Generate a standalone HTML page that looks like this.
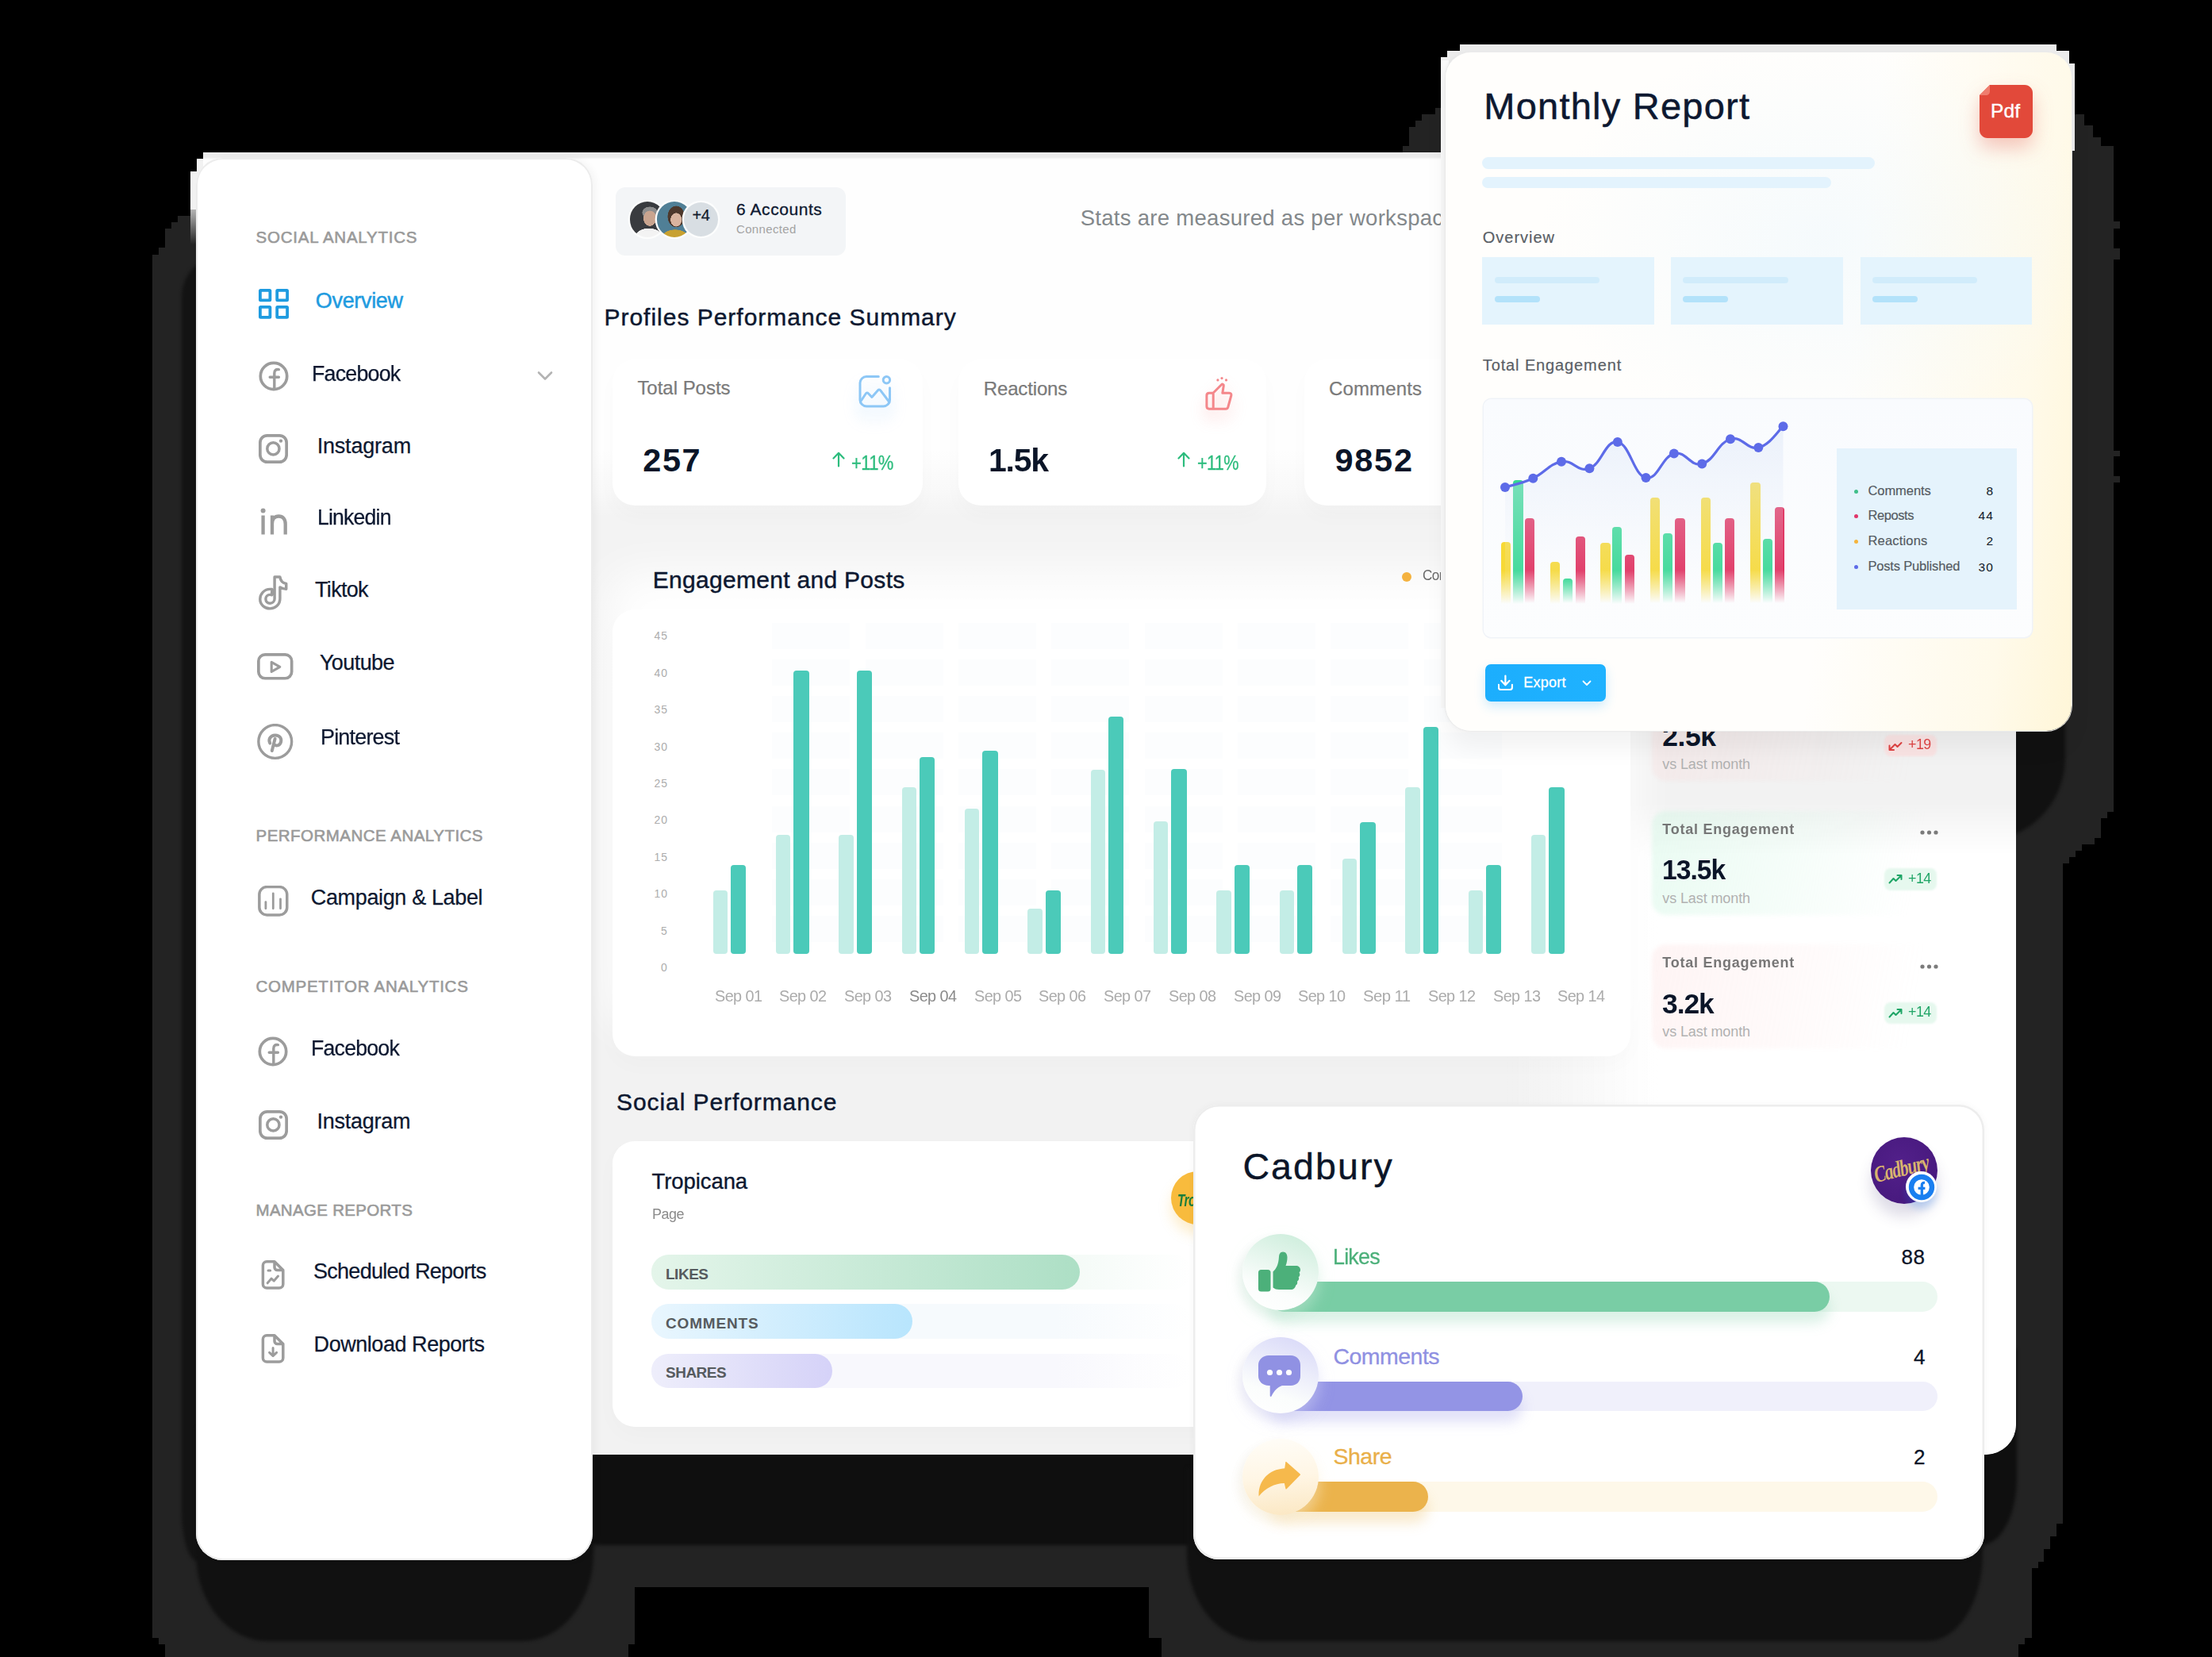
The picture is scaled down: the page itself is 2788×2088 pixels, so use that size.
<!DOCTYPE html>
<html><head><meta charset="utf-8"><title>Social Analytics Dashboard</title>
<style>
html,body{margin:0;padding:0;background:#000;}
body{width:2788px;height:2088px;position:relative;overflow:hidden;font-family:"Liberation Sans",sans-serif;}
.t{position:absolute;white-space:nowrap;line-height:1;font-family:"Liberation Sans",sans-serif;}
</style></head><body>
<svg style="position:absolute;left:0;top:0" width="2788" height="2088" viewBox="0 0 2788 2088"><polygon fill="#232323" points="256,192 1768,192 1768,184 1776,184 1776,160 1784,160 1784,152 1792,152 1792,144 1809,144 1809,136 1816,136 1816,100 2615,100 2615,135 2615,144 2627,144 2627,158 2638,158 2638,173 2648,173 2648,184 2664,184 2664,279 2672,279 2672,288 2664,288 2664,313 2672,313 2672,327 2664,327 2664,568 2672,568 2672,575 2664,575 2664,600 2672,600 2672,608 2664,608 2664,1023 2656,1023 2656,1031 2648,1031 2648,1056 2640,1056 2640,1064 2624,1064 2624,1072 2616,1072 2616,1080 2608,1080 2608,1088 2600,1088 2600,1920 2592,1920 2592,1936 2584,1936 2584,1952 2576,1952 2576,1968 2569,1968 2569,1976 2561,1976 2561,2064 2552,2064 2552,2072 2544,2072 2544,2088 1464,2088 1464,2064 1448,2064 1448,2000 800,2000 800,2072 792,2072 792,2088 208,2088 208,2072 200,2072 200,2064 192,2064 192,321 200,321 200,312 208,312 208,288 216,288 216,280 224,280 224,272 240,272 240,216 248,216 248,200 256,200"/><polygon fill="#f2f2f2" points="256,192 256,200 248,200 248,216 240,216 240,264 262,264 262,192"/><defs><linearGradient id="nz" x1="0" y1="0" x2="0" y2="1"><stop offset="0" stop-color="#b4b4b4"/><stop offset=".2" stop-color="#9a9a9a"/><stop offset="1" stop-color="#232323"/></linearGradient></defs><rect x="240" y="264" width="8" height="44" fill="url(#nz)"/></svg>
<div style="position:absolute;left:229.0px;top:322.0px;width:60.0px;height:1645.0px;background:#111;filter:blur(2.200px);background:#131313;border-radius:52px 0 0 20px / 52px 0 0 62px;"></div>
<div style="position:absolute;left:246.5px;top:1800.0px;width:501.0px;height:268.0px;background:#111;filter:blur(2.200px);border-radius:0 0 90px 90px / 0 0 110px 110px;"></div>
<div style="position:absolute;left:700.0px;top:1700.0px;width:1842.0px;height:247.0px;background:#111;filter:blur(2.200px);background:#0f0f0f;border-radius:0 0 45px 60px / 0 0 85px 60px;"></div>
<div style="position:absolute;left:1496.0px;top:1850.0px;width:1003.0px;height:218.0px;background:#111;filter:blur(2.200px);border-radius:0 0 70px 90px / 0 0 110px 110px;"></div>
<div style="position:absolute;left:1900.0px;top:800.0px;width:703.0px;height:260.0px;background:#111;filter:blur(2.200px);border-radius:0 0 105px 105px;"></div>
<div style="position:absolute;left:256.0px;top:192.0px;width:2285.0px;height:1641.0px;background:linear-gradient(180deg,#ececec 0,#ececec 6px,#fefefe 9px,#fefefe 375px,#f9f9f9 425px,#f3f3f3 458px,#f3f3f3 520px,#f2f2f2 700px,#f2f2f2 100%);border-radius:0 0 38px 0;"></div>
<div style="position:absolute;left:1900.0px;top:1010.0px;width:641.0px;height:823.0px;background:linear-gradient(90deg,rgba(255,255,255,0) 0,#fff 190px);border-radius:0 0 38px 0;-webkit-mask-image:linear-gradient(180deg,transparent 0,#000 70px);mask-image:linear-gradient(180deg,transparent 0,#000 70px)"></div>
<div style="position:absolute;left:776.0px;top:236.0px;width:290.0px;height:86.0px;background:#f3f5f7;border-radius:12px;"></div>
<div style="position:absolute;left:793.7px;top:254.2px;width:44.5px;height:44.5px;border-radius:50%;box-shadow:0 0 0 2.300px #fcfdfd;background:radial-gradient(ellipse 8.200px 9.800px at 57% 47%,#c9a48f 96%,rgba(0,0,0,0) 100%),radial-gradient(ellipse 9.800px 7.600px at 57% 31%,#8e8e8e 96%,rgba(0,0,0,0) 100%),radial-gradient(ellipse 17.500px 11.500px at 54% 100%,#f3f3f3 96%,rgba(0,0,0,0) 100%),#393b3f;"></div>
<div style="position:absolute;left:827.6px;top:254.2px;width:44.5px;height:44.5px;border-radius:50%;box-shadow:0 0 0 2.300px #fcfdfd;background:radial-gradient(ellipse 7.100px 8.700px at 55% 51%,#d9b49f 96%,rgba(0,0,0,0) 100%),radial-gradient(ellipse 10.900px 13.600px at 55% 42%,#4d382c 96%,rgba(0,0,0,0) 100%),radial-gradient(ellipse 16.400px 9.800px at 52% 100%,#c8a131 96%,rgba(0,0,0,0) 100%),#507f96;"></div>
<div style="position:absolute;left:862.2px;top:255.1px;width:42.8px;height:42.8px;border-radius:50%;box-shadow:0 0 0 2.300px #fcfdfd;background:#d8dee3;"></div>
<span class="t" style="left:872.4px;top:261.4px;font-size:20.0px;color:#111a2b;letter-spacing:-0.41px;-webkit-text-stroke:0.20px #111a2b;">+4</span>
<span class="t" style="left:928.0px;top:253.2px;font-size:21.0px;color:#0d1830;letter-spacing:0.57px;-webkit-text-stroke:0.30px #0d1830;">6 Accounts</span>
<span class="t" style="left:928.0px;top:281.3px;font-size:15.0px;color:#a3a3a3;letter-spacing:0.34px;">Connected</span>
<span class="t" style="left:1361.7px;top:260.9px;font-size:27.5px;color:#83888b;letter-spacing:0.29px;">Stats are measured as per workspace</span>
<span class="t" style="left:761.5px;top:384.9px;font-size:30.0px;color:#0d1830;letter-spacing:0.98px;-webkit-text-stroke:0.45px #0d1830;">Profiles Performance Summary</span>
<div style="position:absolute;left:772.0px;top:453.0px;width:391.0px;height:184.0px;background:#fff;border-radius:28px;box-shadow:0 14px 26px rgba(0,0,0,.02);"></div>
<div style="position:absolute;left:1208.0px;top:453.0px;width:388.0px;height:184.0px;background:#fff;border-radius:28px;box-shadow:0 14px 26px rgba(0,0,0,.02);"></div>
<div style="position:absolute;left:1644.0px;top:453.0px;width:390.0px;height:184.0px;background:#fff;border-radius:28px;box-shadow:0 14px 26px rgba(0,0,0,.02);"></div>
<span class="t" style="left:803.4px;top:477.2px;font-size:24.0px;color:#7a7a7a;letter-spacing:-0.02px;-webkit-text-stroke:0.25px #7a7a7a;">Total Posts</span>
<span class="t" style="left:1239.8px;top:477.5px;font-size:24.0px;color:#7a7a7a;letter-spacing:-0.15px;-webkit-text-stroke:0.25px #7a7a7a;">Reactions</span>
<span class="t" style="left:1674.9px;top:477.5px;font-size:24.0px;color:#7a7a7a;letter-spacing:0.17px;-webkit-text-stroke:0.25px #7a7a7a;">Comments</span>
<span class="t" style="left:810.3px;top:559.2px;font-size:41.5px;color:#0b1528;font-weight:bold;letter-spacing:1.52px;">257</span>
<span class="t" style="left:1245.5px;top:559.3px;font-size:41.5px;color:#0b1528;font-weight:bold;letter-spacing:-1.24px;transform:scaleX(0.9864);transform-origin:0 0;">1.5k</span>
<span class="t" style="left:1682.5px;top:559.3px;font-size:41.5px;color:#0b1528;font-weight:bold;letter-spacing:1.72px;">9852</span>
<span class="t" style="left:1072.7px;top:569.9px;font-size:26.0px;color:#2cbc7d;letter-spacing:-0.78px;-webkit-text-stroke:0.30px #2cbc7d;transform:scaleX(0.8466);transform-origin:0 0;">+11%</span>
<span class="t" style="left:1509.0px;top:569.9px;font-size:26.0px;color:#2cbc7d;letter-spacing:-0.78px;-webkit-text-stroke:0.30px #2cbc7d;transform:scaleX(0.8323);transform-origin:0 0;">+11%</span>
<svg style="position:absolute;left:1049px;top:569px" width="16" height="20" viewBox="0 0 16 20" fill="none" stroke="#2cbc7d" stroke-width="2.200" stroke-linecap="round" stroke-linejoin="round"><path d="M8 18.500 V2 M1.500 8.500 L8 1.800 L14.500 8.500"/></svg>
<svg style="position:absolute;left:1484px;top:569px" width="16" height="20" viewBox="0 0 16 20" fill="none" stroke="#2cbc7d" stroke-width="2.200" stroke-linecap="round" stroke-linejoin="round"><path d="M8 18.500 V2 M1.500 8.500 L8 1.800 L14.500 8.500"/></svg>
<svg style="position:absolute;left:1081px;top:472px;filter:drop-shadow(0 14px 9px rgba(130,190,248,.33))" width="44" height="43" viewBox="0 0 44 43" fill="none" stroke="#8dc7f6" stroke-width="3" stroke-linecap="round" stroke-linejoin="round"><path d="M26.300 2.600 H11 c-4.400 0-8 3.600-8 8 V31.900 c0 4.400 3.600 8 8 8 H32.500 c4.400 0 8-3.600 8-8 V16.700"/><circle cx="36.400" cy="6.800" r="4.200"/><path d="M4.300 33 L10.300 24 c.8-1.200 2.100-1.300 3.100-.3 L17.900 28.500 L25.600 19.700 c.9-1 2.300-1 3.100.1 L39.800 34.500"/></svg>
<svg style="position:absolute;left:1518px;top:474px;filter:drop-shadow(0 11px 9px rgba(245,130,130,.38))" width="38" height="44" viewBox="0 0 38 44" fill="none" stroke="#f4878b" stroke-width="3" stroke-linecap="round" stroke-linejoin="round"><path d="M11 21.300 H6 c-1.900 0-3.100 1.200-3.100 3.100 V38.100 c0 1.900 1.200 3.100 3.100 3.100 H27 c1.500 0 2.300-.8 2.800-2.200 L33.800 24.500 c.5-1.800-.5-3.200-2.400-3.200 H22.800 L24.300 12 c.3-1.700-1.600-2.500-2.800-1.200 Z M11.200 21.300 V41.200"/><circle cx="16.900" cy="4.900" r="1.600" fill="#f4878b" stroke="none"/><circle cx="22" cy="2.600" r="1.600" fill="#f4878b" stroke="none"/><circle cx="27.500" cy="4.900" r="1.600" fill="#f4878b" stroke="none"/></svg>
<div style="position:absolute;left:772.0px;top:768.0px;width:1283.0px;height:562.5px;background:#fff;border-radius:28px;box-shadow:0 -42px 55px 6px rgba(255,255,255,.95),0 10px 30px rgba(0,0,0,.02);"></div>
<span class="t" style="left:822.7px;top:715.5px;font-size:30.0px;color:#0d1830;letter-spacing:0.30px;-webkit-text-stroke:0.45px #0d1830;">Engagement and Posts</span>
<div style="position:absolute;left:1767.0px;top:720.7px;width:12.0px;height:12.0px;border-radius:50%;background:#f4b23f;"></div>
<span class="t" style="left:1792.7px;top:714.6px;font-size:19.0px;color:#6a6a6a;letter-spacing:-0.57px;transform:scaleX(0.8991);transform-origin:0 0;">Comments</span>
<div style="position:absolute;left:973.4px;top:784.5px;width:98.0px;height:33.0px;background:#fcfdfe;"></div><div style="position:absolute;left:973.4px;top:830.7px;width:98.0px;height:33.0px;background:#fcfdfe;"></div><div style="position:absolute;left:973.4px;top:876.9px;width:98.0px;height:33.0px;background:#fcfdfe;"></div><div style="position:absolute;left:973.4px;top:923.1px;width:98.0px;height:33.0px;background:#fcfdfe;"></div><div style="position:absolute;left:973.4px;top:969.3px;width:98.0px;height:33.0px;background:#fcfdfe;"></div><div style="position:absolute;left:973.4px;top:1015.5px;width:98.0px;height:33.0px;background:#fcfdfe;"></div><div style="position:absolute;left:973.4px;top:1061.7px;width:98.0px;height:33.0px;background:#fcfdfe;"></div><div style="position:absolute;left:973.4px;top:1107.9px;width:98.0px;height:33.0px;background:#fcfdfe;"></div><div style="position:absolute;left:973.4px;top:1154.1px;width:98.0px;height:33.0px;background:#fcfdfe;"></div><div style="position:absolute;left:1090.7px;top:784.5px;width:98.0px;height:33.0px;background:#fcfdfe;"></div><div style="position:absolute;left:1090.7px;top:830.7px;width:98.0px;height:33.0px;background:#fcfdfe;"></div><div style="position:absolute;left:1090.7px;top:876.9px;width:98.0px;height:33.0px;background:#fcfdfe;"></div><div style="position:absolute;left:1090.7px;top:923.1px;width:98.0px;height:33.0px;background:#fcfdfe;"></div><div style="position:absolute;left:1090.7px;top:969.3px;width:98.0px;height:33.0px;background:#fcfdfe;"></div><div style="position:absolute;left:1090.7px;top:1015.5px;width:98.0px;height:33.0px;background:#fcfdfe;"></div><div style="position:absolute;left:1090.7px;top:1061.7px;width:98.0px;height:33.0px;background:#fcfdfe;"></div><div style="position:absolute;left:1090.7px;top:1107.9px;width:98.0px;height:33.0px;background:#fcfdfe;"></div><div style="position:absolute;left:1090.7px;top:1154.1px;width:98.0px;height:33.0px;background:#fcfdfe;"></div><div style="position:absolute;left:1208.0px;top:784.5px;width:98.0px;height:33.0px;background:#fcfdfe;"></div><div style="position:absolute;left:1208.0px;top:830.7px;width:98.0px;height:33.0px;background:#fcfdfe;"></div><div style="position:absolute;left:1208.0px;top:876.9px;width:98.0px;height:33.0px;background:#fcfdfe;"></div><div style="position:absolute;left:1208.0px;top:923.1px;width:98.0px;height:33.0px;background:#fcfdfe;"></div><div style="position:absolute;left:1208.0px;top:969.3px;width:98.0px;height:33.0px;background:#fcfdfe;"></div><div style="position:absolute;left:1208.0px;top:1015.5px;width:98.0px;height:33.0px;background:#fcfdfe;"></div><div style="position:absolute;left:1208.0px;top:1061.7px;width:98.0px;height:33.0px;background:#fcfdfe;"></div><div style="position:absolute;left:1208.0px;top:1107.9px;width:98.0px;height:33.0px;background:#fcfdfe;"></div><div style="position:absolute;left:1208.0px;top:1154.1px;width:98.0px;height:33.0px;background:#fcfdfe;"></div><div style="position:absolute;left:1325.3px;top:784.5px;width:98.0px;height:33.0px;background:#fcfdfe;"></div><div style="position:absolute;left:1325.3px;top:830.7px;width:98.0px;height:33.0px;background:#fcfdfe;"></div><div style="position:absolute;left:1325.3px;top:876.9px;width:98.0px;height:33.0px;background:#fcfdfe;"></div><div style="position:absolute;left:1325.3px;top:923.1px;width:98.0px;height:33.0px;background:#fcfdfe;"></div><div style="position:absolute;left:1325.3px;top:969.3px;width:98.0px;height:33.0px;background:#fcfdfe;"></div><div style="position:absolute;left:1325.3px;top:1015.5px;width:98.0px;height:33.0px;background:#fcfdfe;"></div><div style="position:absolute;left:1325.3px;top:1061.7px;width:98.0px;height:33.0px;background:#fcfdfe;"></div><div style="position:absolute;left:1325.3px;top:1107.9px;width:98.0px;height:33.0px;background:#fcfdfe;"></div><div style="position:absolute;left:1325.3px;top:1154.1px;width:98.0px;height:33.0px;background:#fcfdfe;"></div><div style="position:absolute;left:1442.6px;top:784.5px;width:98.0px;height:33.0px;background:#fcfdfe;"></div><div style="position:absolute;left:1442.6px;top:830.7px;width:98.0px;height:33.0px;background:#fcfdfe;"></div><div style="position:absolute;left:1442.6px;top:876.9px;width:98.0px;height:33.0px;background:#fcfdfe;"></div><div style="position:absolute;left:1442.6px;top:923.1px;width:98.0px;height:33.0px;background:#fcfdfe;"></div><div style="position:absolute;left:1442.6px;top:969.3px;width:98.0px;height:33.0px;background:#fcfdfe;"></div><div style="position:absolute;left:1442.6px;top:1015.5px;width:98.0px;height:33.0px;background:#fcfdfe;"></div><div style="position:absolute;left:1442.6px;top:1061.7px;width:98.0px;height:33.0px;background:#fcfdfe;"></div><div style="position:absolute;left:1442.6px;top:1107.9px;width:98.0px;height:33.0px;background:#fcfdfe;"></div><div style="position:absolute;left:1442.6px;top:1154.1px;width:98.0px;height:33.0px;background:#fcfdfe;"></div><div style="position:absolute;left:1559.9px;top:784.5px;width:98.0px;height:33.0px;background:#fcfdfe;"></div><div style="position:absolute;left:1559.9px;top:830.7px;width:98.0px;height:33.0px;background:#fcfdfe;"></div><div style="position:absolute;left:1559.9px;top:876.9px;width:98.0px;height:33.0px;background:#fcfdfe;"></div><div style="position:absolute;left:1559.9px;top:923.1px;width:98.0px;height:33.0px;background:#fcfdfe;"></div><div style="position:absolute;left:1559.9px;top:969.3px;width:98.0px;height:33.0px;background:#fcfdfe;"></div><div style="position:absolute;left:1559.9px;top:1015.5px;width:98.0px;height:33.0px;background:#fcfdfe;"></div><div style="position:absolute;left:1559.9px;top:1061.7px;width:98.0px;height:33.0px;background:#fcfdfe;"></div><div style="position:absolute;left:1559.9px;top:1107.9px;width:98.0px;height:33.0px;background:#fcfdfe;"></div><div style="position:absolute;left:1559.9px;top:1154.1px;width:98.0px;height:33.0px;background:#fcfdfe;"></div><div style="position:absolute;left:1677.2px;top:784.5px;width:98.0px;height:33.0px;background:#fcfdfe;"></div><div style="position:absolute;left:1677.2px;top:830.7px;width:98.0px;height:33.0px;background:#fcfdfe;"></div><div style="position:absolute;left:1677.2px;top:876.9px;width:98.0px;height:33.0px;background:#fcfdfe;"></div><div style="position:absolute;left:1677.2px;top:923.1px;width:98.0px;height:33.0px;background:#fcfdfe;"></div><div style="position:absolute;left:1677.2px;top:969.3px;width:98.0px;height:33.0px;background:#fcfdfe;"></div><div style="position:absolute;left:1677.2px;top:1015.5px;width:98.0px;height:33.0px;background:#fcfdfe;"></div><div style="position:absolute;left:1677.2px;top:1061.7px;width:98.0px;height:33.0px;background:#fcfdfe;"></div><div style="position:absolute;left:1677.2px;top:1107.9px;width:98.0px;height:33.0px;background:#fcfdfe;"></div><div style="position:absolute;left:1677.2px;top:1154.1px;width:98.0px;height:33.0px;background:#fcfdfe;"></div><div style="position:absolute;left:1794.5px;top:784.5px;width:98.0px;height:33.0px;background:#fcfdfe;"></div><div style="position:absolute;left:1794.5px;top:830.7px;width:98.0px;height:33.0px;background:#fcfdfe;"></div><div style="position:absolute;left:1794.5px;top:876.9px;width:98.0px;height:33.0px;background:#fcfdfe;"></div><div style="position:absolute;left:1794.5px;top:923.1px;width:98.0px;height:33.0px;background:#fcfdfe;"></div><div style="position:absolute;left:1794.5px;top:969.3px;width:98.0px;height:33.0px;background:#fcfdfe;"></div><div style="position:absolute;left:1794.5px;top:1015.5px;width:98.0px;height:33.0px;background:#fcfdfe;"></div><div style="position:absolute;left:1794.5px;top:1061.7px;width:98.0px;height:33.0px;background:#fcfdfe;"></div><div style="position:absolute;left:1794.5px;top:1107.9px;width:98.0px;height:33.0px;background:#fcfdfe;"></div><div style="position:absolute;left:1794.5px;top:1154.1px;width:98.0px;height:33.0px;background:#fcfdfe;"></div>
<span class="t" style="left:824.5px;top:794.2px;font-size:14.0px;color:#adadad;letter-spacing:0.92px;">45</span>
<span class="t" style="left:824.5px;top:840.7px;font-size:14.0px;color:#adadad;letter-spacing:0.92px;">40</span>
<span class="t" style="left:824.5px;top:887.1px;font-size:14.0px;color:#adadad;letter-spacing:0.92px;">35</span>
<span class="t" style="left:824.5px;top:933.5px;font-size:14.0px;color:#adadad;letter-spacing:0.92px;">30</span>
<span class="t" style="left:824.5px;top:980.0px;font-size:14.0px;color:#adadad;letter-spacing:0.92px;">25</span>
<span class="t" style="left:824.5px;top:1026.4px;font-size:14.0px;color:#adadad;letter-spacing:0.92px;">20</span>
<span class="t" style="left:824.5px;top:1072.8px;font-size:14.0px;color:#adadad;letter-spacing:0.92px;">15</span>
<span class="t" style="left:824.5px;top:1119.3px;font-size:14.0px;color:#adadad;letter-spacing:0.92px;">10</span>
<span class="t" style="left:833.0px;top:1165.7px;font-size:14.0px;color:#adadad;letter-spacing:0.20px;">5</span>
<span class="t" style="left:833.0px;top:1212.1px;font-size:14.0px;color:#adadad;letter-spacing:0.20px;">0</span>
<div style="position:absolute;left:898.5px;top:1121.9px;width:18.5px;height:80.1px;background:#c3ede6;border-radius:4px;"></div><div style="position:absolute;left:921.1px;top:1090.2px;width:19.2px;height:111.8px;background:#4bcab9;border-radius:4px;"></div><div style="position:absolute;left:977.8px;top:1051.9px;width:18.5px;height:150.1px;background:#c3ede6;border-radius:4px;"></div><div style="position:absolute;left:1000.4px;top:844.6px;width:19.2px;height:357.4px;background:#4bcab9;border-radius:4px;"></div><div style="position:absolute;left:1057.2px;top:1051.9px;width:18.5px;height:150.1px;background:#c3ede6;border-radius:4px;"></div><div style="position:absolute;left:1079.8px;top:844.6px;width:19.2px;height:357.4px;background:#4bcab9;border-radius:4px;"></div><div style="position:absolute;left:1136.5px;top:991.6px;width:18.5px;height:210.4px;background:#c3ede6;border-radius:4px;"></div><div style="position:absolute;left:1159.1px;top:953.6px;width:19.2px;height:248.4px;background:#4bcab9;border-radius:4px;"></div><div style="position:absolute;left:1215.8px;top:1018.6px;width:18.5px;height:183.4px;background:#c3ede6;border-radius:4px;"></div><div style="position:absolute;left:1238.4px;top:946.0px;width:19.2px;height:256.0px;background:#4bcab9;border-radius:4px;"></div><div style="position:absolute;left:1295.2px;top:1144.7px;width:18.5px;height:57.3px;background:#c3ede6;border-radius:4px;"></div><div style="position:absolute;left:1317.8px;top:1121.9px;width:19.2px;height:80.1px;background:#4bcab9;border-radius:4px;"></div><div style="position:absolute;left:1374.5px;top:969.5px;width:18.5px;height:232.5px;background:#c3ede6;border-radius:4px;"></div><div style="position:absolute;left:1397.1px;top:903.0px;width:19.2px;height:299.0px;background:#4bcab9;border-radius:4px;"></div><div style="position:absolute;left:1453.8px;top:1035.2px;width:18.5px;height:166.8px;background:#c3ede6;border-radius:4px;"></div><div style="position:absolute;left:1476.4px;top:969.3px;width:19.2px;height:232.7px;background:#4bcab9;border-radius:4px;"></div><div style="position:absolute;left:1533.1px;top:1122.4px;width:18.5px;height:79.6px;background:#c3ede6;border-radius:4px;"></div><div style="position:absolute;left:1555.7px;top:1090.4px;width:19.2px;height:111.6px;background:#4bcab9;border-radius:4px;"></div><div style="position:absolute;left:1612.5px;top:1122.4px;width:18.5px;height:79.6px;background:#c3ede6;border-radius:4px;"></div><div style="position:absolute;left:1635.1px;top:1090.4px;width:19.2px;height:111.6px;background:#4bcab9;border-radius:4px;"></div><div style="position:absolute;left:1691.8px;top:1082.4px;width:18.5px;height:119.6px;background:#c3ede6;border-radius:4px;"></div><div style="position:absolute;left:1714.4px;top:1036.2px;width:19.2px;height:165.8px;background:#4bcab9;border-radius:4px;"></div><div style="position:absolute;left:1771.1px;top:991.8px;width:18.5px;height:210.2px;background:#c3ede6;border-radius:4px;"></div><div style="position:absolute;left:1793.7px;top:916.0px;width:19.2px;height:286.0px;background:#4bcab9;border-radius:4px;"></div><div style="position:absolute;left:1850.5px;top:1122.4px;width:18.5px;height:79.6px;background:#c3ede6;border-radius:4px;"></div><div style="position:absolute;left:1873.1px;top:1090.4px;width:19.2px;height:111.6px;background:#4bcab9;border-radius:4px;"></div><div style="position:absolute;left:1929.8px;top:1052.3px;width:18.5px;height:149.7px;background:#c3ede6;border-radius:4px;"></div><div style="position:absolute;left:1952.4px;top:992.4px;width:19.2px;height:209.6px;background:#4bcab9;border-radius:4px;"></div>
<span class="t" style="left:900.6px;top:1245.2px;font-size:20.5px;color:#ababab;letter-spacing:-0.61px;transform:scaleX(0.9692);transform-origin:0 0;">Sep 01</span>
<span class="t" style="left:982.4px;top:1245.2px;font-size:20.5px;color:#ababab;letter-spacing:-0.61px;transform:scaleX(0.9692);transform-origin:0 0;">Sep 02</span>
<span class="t" style="left:1064.1px;top:1245.2px;font-size:20.5px;color:#ababab;letter-spacing:-0.61px;transform:scaleX(0.9692);transform-origin:0 0;">Sep 03</span>
<span class="t" style="left:1145.8px;top:1245.2px;font-size:20.5px;color:#8a8a8a;letter-spacing:-0.61px;transform:scaleX(0.9692);transform-origin:0 0;">Sep 04</span>
<span class="t" style="left:1227.6px;top:1245.2px;font-size:20.5px;color:#ababab;letter-spacing:-0.61px;transform:scaleX(0.9692);transform-origin:0 0;">Sep 05</span>
<span class="t" style="left:1309.3px;top:1245.2px;font-size:20.5px;color:#ababab;letter-spacing:-0.61px;transform:scaleX(0.9692);transform-origin:0 0;">Sep 06</span>
<span class="t" style="left:1391.1px;top:1245.2px;font-size:20.5px;color:#ababab;letter-spacing:-0.61px;transform:scaleX(0.9692);transform-origin:0 0;">Sep 07</span>
<span class="t" style="left:1472.8px;top:1245.2px;font-size:20.5px;color:#ababab;letter-spacing:-0.61px;transform:scaleX(0.9692);transform-origin:0 0;">Sep 08</span>
<span class="t" style="left:1554.6px;top:1245.2px;font-size:20.5px;color:#ababab;letter-spacing:-0.61px;transform:scaleX(0.9692);transform-origin:0 0;">Sep 09</span>
<span class="t" style="left:1636.3px;top:1245.2px;font-size:20.5px;color:#ababab;letter-spacing:-0.61px;transform:scaleX(0.9692);transform-origin:0 0;">Sep 10</span>
<span class="t" style="left:1718.1px;top:1245.2px;font-size:20.5px;color:#ababab;letter-spacing:-0.61px;transform:scaleX(0.9937);transform-origin:0 0;">Sep 11</span>
<span class="t" style="left:1799.8px;top:1245.2px;font-size:20.5px;color:#ababab;letter-spacing:-0.61px;transform:scaleX(0.9692);transform-origin:0 0;">Sep 12</span>
<span class="t" style="left:1881.6px;top:1245.2px;font-size:20.5px;color:#ababab;letter-spacing:-0.61px;transform:scaleX(0.9692);transform-origin:0 0;">Sep 13</span>
<span class="t" style="left:1963.3px;top:1245.2px;font-size:20.5px;color:#ababab;letter-spacing:-0.61px;transform:scaleX(0.9692);transform-origin:0 0;">Sep 14</span>
<div style="position:absolute;left:2082.0px;top:853.2px;width:370.0px;height:131.0px;border-radius:18px;filter:blur(2.500px);background:linear-gradient(100deg,rgba(250,200,200,.2) 0,rgba(255,255,255,0) 88%);"></div><span class="t" style="left:2095.3px;top:867.3px;font-size:18.0px;color:#6c6c6c;font-weight:bold;letter-spacing:0.75px;opacity:.92;">Total Engagement</span><svg style="position:absolute;left:2420px;top:877.5px" width="23" height="6" viewBox="0 0 23 6" fill="#7b7b7b"><circle cx="3" cy="3" r="2.600"/><circle cx="11.500" cy="3" r="2.600"/><circle cx="20" cy="3" r="2.600"/></svg><span class="t" style="left:2095.3px;top:910.7px;font-size:35.5px;color:#0b1528;font-weight:bold;letter-spacing:-0.46px;">2.5k</span><span class="t" style="left:2095.3px;top:954.0px;font-size:18.0px;color:#b1b1b1;letter-spacing:-0.11px;">vs Last month</span><div style="position:absolute;left:2374.6px;top:925.5px;width:66.0px;height:27.5px;background:#fae4e4;border-radius:8px;filter:blur(1px);"></div><svg style="position:absolute;left:2379.500px;top:932.7px" width="18" height="14" viewBox="0 0 18 14" fill="none" stroke="#e04343" stroke-width="2" stroke-linecap="round" stroke-linejoin="round"><path d="M16.500 3 L11.500 8 L8.500 5 L2 11.500 M1.500 6.500 V12 H7"/></svg><span class="t" style="left:2405.0px;top:929.0px;font-size:18.5px;color:#e04343;letter-spacing:-0.55px;transform:scaleX(0.9643);transform-origin:0 0;">+19</span>
<div style="position:absolute;left:2082.0px;top:1021.7px;width:370.0px;height:131.0px;border-radius:18px;filter:blur(2.500px);background:linear-gradient(100deg,rgba(200,245,222,.38) 0,rgba(255,255,255,0) 88%);"></div><span class="t" style="left:2095.3px;top:1035.8px;font-size:18.0px;color:#6c6c6c;font-weight:bold;letter-spacing:0.75px;opacity:.92;">Total Engagement</span><svg style="position:absolute;left:2420px;top:1046.0px" width="23" height="6" viewBox="0 0 23 6" fill="#7b7b7b"><circle cx="3" cy="3" r="2.600"/><circle cx="11.500" cy="3" r="2.600"/><circle cx="20" cy="3" r="2.600"/></svg><span class="t" style="left:2095.3px;top:1079.2px;font-size:35.5px;color:#0b1528;font-weight:bold;letter-spacing:-1.06px;transform:scaleX(0.9494);transform-origin:0 0;">13.5k</span><span class="t" style="left:2095.3px;top:1122.5px;font-size:18.0px;color:#b1b1b1;letter-spacing:-0.11px;">vs Last month</span><div style="position:absolute;left:2374.6px;top:1094.0px;width:66.0px;height:27.5px;background:#e6f8ee;border-radius:8px;filter:blur(1px);"></div><svg style="position:absolute;left:2379.500px;top:1101.2px" width="18" height="14" viewBox="0 0 18 14" fill="none" stroke="#1fa566" stroke-width="2" stroke-linecap="round" stroke-linejoin="round"><path d="M1.500 11.500 L6.500 6 L9.500 9 L16 2.500 M11.500 2 H16.500 V7"/></svg><span class="t" style="left:2405.0px;top:1097.5px;font-size:18.5px;color:#1fa566;letter-spacing:-0.55px;transform:scaleX(0.9643);transform-origin:0 0;">+14</span>
<div style="position:absolute;left:2082.0px;top:1190.2px;width:370.0px;height:131.0px;border-radius:18px;filter:blur(2.500px);background:linear-gradient(100deg,rgba(252,210,210,.24) 0,rgba(255,255,255,0) 88%);"></div><span class="t" style="left:2095.3px;top:1204.2px;font-size:18.0px;color:#6c6c6c;font-weight:bold;letter-spacing:0.75px;opacity:.92;">Total Engagement</span><svg style="position:absolute;left:2420px;top:1214.5px" width="23" height="6" viewBox="0 0 23 6" fill="#7b7b7b"><circle cx="3" cy="3" r="2.600"/><circle cx="11.500" cy="3" r="2.600"/><circle cx="20" cy="3" r="2.600"/></svg><span class="t" style="left:2095.3px;top:1247.7px;font-size:35.5px;color:#0b1528;font-weight:bold;letter-spacing:-1.06px;transform:scaleX(0.9970);transform-origin:0 0;">3.2k</span><span class="t" style="left:2095.3px;top:1291.0px;font-size:18.0px;color:#b1b1b1;letter-spacing:-0.11px;">vs Last month</span><div style="position:absolute;left:2374.6px;top:1262.5px;width:66.0px;height:27.5px;background:#e6f8ee;border-radius:8px;filter:blur(1px);"></div><svg style="position:absolute;left:2379.500px;top:1269.7px" width="18" height="14" viewBox="0 0 18 14" fill="none" stroke="#1fa566" stroke-width="2" stroke-linecap="round" stroke-linejoin="round"><path d="M1.500 11.500 L6.500 6 L9.500 9 L16 2.500 M11.500 2 H16.500 V7"/></svg><span class="t" style="left:2405.0px;top:1266.0px;font-size:18.5px;color:#1fa566;letter-spacing:-0.55px;transform:scaleX(0.9643);transform-origin:0 0;">+14</span>
<span class="t" style="left:777.0px;top:1373.5px;font-size:30.0px;color:#0d1830;letter-spacing:0.92px;-webkit-text-stroke:0.45px #0d1830;">Social Performance</span>
<div style="position:absolute;left:772.0px;top:1438.0px;width:800.0px;height:360.0px;background:#fff;border-radius:28px;box-shadow:0 10px 30px rgba(0,0,0,.02);"></div>
<span class="t" style="left:821.6px;top:1475.2px;font-size:27.5px;color:#0d1830;letter-spacing:-0.09px;-webkit-text-stroke:0.35px #0d1830;">Tropicana</span>
<span class="t" style="left:821.6px;top:1520.5px;font-size:18.0px;color:#8b8b8b;letter-spacing:-0.54px;transform:scaleX(0.9993);transform-origin:0 0;">Page</span>
<div style="position:absolute;left:1476.0px;top:1475.5px;width:67.0px;height:67.0px;border-radius:50%;background:#f8bb3d;box-shadow:0 12px 16px rgba(248,187,61,.25);"></div>
<span class="t" style="left:1483.5px;top:1502.0px;font-size:21.0px;color:#1b7d3b;font-weight:bold;letter-spacing:-0.80px;font-style:italic;transform:scale(0.74,1.08);transform-origin:0 85%;">Trop</span>
<div style="position:absolute;left:820.5px;top:1581.0px;width:680.0px;height:44.0px;border-radius:22px;background:linear-gradient(90deg,#f3faf6 0,#f3faf6 75%,#fff 100%);"></div>
<div style="position:absolute;left:820.5px;top:1581.0px;width:540.0px;height:44.0px;border-radius:22px;background:linear-gradient(90deg,#e4f5ea 0,#addfc5 100%);"></div>
<div style="position:absolute;left:820.5px;top:1643.2px;width:680.0px;height:44.0px;border-radius:22px;background:linear-gradient(90deg,#f6fafd 0,#f6fafd 75%,#fff 100%);"></div>
<div style="position:absolute;left:820.5px;top:1643.2px;width:329.0px;height:44.0px;border-radius:22px;background:linear-gradient(90deg,#e9f6fe 0,#b8e5fd 100%);"></div>
<div style="position:absolute;left:820.5px;top:1705.8px;width:680.0px;height:43.5px;border-radius:22px;background:linear-gradient(90deg,#f8f8fd 0,#f8f8fd 75%,#fff 100%);"></div>
<div style="position:absolute;left:820.5px;top:1705.8px;width:228.5px;height:43.5px;border-radius:22px;background:linear-gradient(90deg,#eeeefb 0,#d5d2f8 100%);"></div>
<span class="t" style="left:839.0px;top:1595.7px;font-size:19.0px;color:#565b5e;font-weight:bold;letter-spacing:-0.49px;">LIKES</span>
<span class="t" style="left:839.0px;top:1657.7px;font-size:19.0px;color:#565b5e;font-weight:bold;letter-spacing:0.82px;">COMMENTS</span>
<span class="t" style="left:839.0px;top:1720.0px;font-size:19.0px;color:#565b5e;font-weight:bold;letter-spacing:-0.50px;">SHARES</span>
<div style="position:absolute;left:247px;top:199px;width:500px;height:1767px;background:#fff;border-radius:34px;box-shadow:0 0 0 2px #ececec inset, 4px 0 10px rgba(0,0,0,.04)"></div>
<span class="t" style="left:322.5px;top:289.0px;font-size:20.5px;color:#9a9a9a;letter-spacing:0.77px;-webkit-text-stroke:0.60px #9a9a9a;">SOCIAL ANALYTICS</span>
<span class="t" style="left:322.5px;top:1043.1px;font-size:20.5px;color:#9a9a9a;letter-spacing:0.48px;-webkit-text-stroke:0.60px #9a9a9a;">PERFORMANCE ANALYTICS</span>
<span class="t" style="left:322.5px;top:1232.6px;font-size:20.5px;color:#9a9a9a;letter-spacing:0.74px;-webkit-text-stroke:0.60px #9a9a9a;">COMPETITOR ANALYTICS</span>
<span class="t" style="left:322.5px;top:1514.6px;font-size:20.5px;color:#9a9a9a;letter-spacing:0.31px;-webkit-text-stroke:0.60px #9a9a9a;">MANAGE REPORTS</span>
<span class="t" style="left:397.8px;top:365.7px;font-size:27.0px;color:#1e9be0;letter-spacing:-0.33px;-webkit-text-stroke:0.50px #1e9be0;">Overview</span>
<span class="t" style="left:392.7px;top:457.5px;font-size:27.0px;color:#0d1830;letter-spacing:-0.81px;-webkit-text-stroke:0.25px #0d1830;transform:scaleX(0.9937);transform-origin:0 0;">Facebook</span>
<span class="t" style="left:399.7px;top:548.7px;font-size:27.0px;color:#0d1830;letter-spacing:-0.20px;-webkit-text-stroke:0.25px #0d1830;">Instagram</span>
<span class="t" style="left:399.7px;top:639.2px;font-size:27.0px;color:#0d1830;letter-spacing:-0.81px;-webkit-text-stroke:0.25px #0d1830;transform:scaleX(0.9852);transform-origin:0 0;">Linkedin</span>
<span class="t" style="left:397.0px;top:730.3px;font-size:27.0px;color:#0d1830;letter-spacing:-0.68px;-webkit-text-stroke:0.25px #0d1830;">Tiktok</span>
<span class="t" style="left:402.9px;top:821.9px;font-size:27.0px;color:#0d1830;letter-spacing:-0.57px;-webkit-text-stroke:0.25px #0d1830;">Youtube</span>
<span class="t" style="left:404.0px;top:916.3px;font-size:27.0px;color:#0d1830;letter-spacing:-0.81px;-webkit-text-stroke:0.25px #0d1830;transform:scaleX(0.9992);transform-origin:0 0;">Pinterest</span>
<span class="t" style="left:391.8px;top:1118.3px;font-size:27.0px;color:#0d1830;letter-spacing:-0.36px;-webkit-text-stroke:0.25px #0d1830;">Campaign &amp; Label</span>
<span class="t" style="left:392.4px;top:1307.9px;font-size:27.0px;color:#0d1830;letter-spacing:-0.81px;-webkit-text-stroke:0.25px #0d1830;transform:scaleX(0.9902);transform-origin:0 0;">Facebook</span>
<span class="t" style="left:399.4px;top:1399.8px;font-size:27.0px;color:#0d1830;letter-spacing:-0.23px;-webkit-text-stroke:0.25px #0d1830;">Instagram</span>
<span class="t" style="left:395.0px;top:1589.3px;font-size:27.0px;color:#0d1830;letter-spacing:-0.72px;-webkit-text-stroke:0.25px #0d1830;">Scheduled Reports</span>
<span class="t" style="left:395.6px;top:1681.3px;font-size:27.0px;color:#0d1830;letter-spacing:-0.45px;-webkit-text-stroke:0.25px #0d1830;">Download Reports</span>
<svg style="position:absolute;left:326px;top:363.800px" width="38" height="38" viewBox="0 0 38 38" fill="none" stroke="#1e9be0" stroke-width="3.800" stroke-linejoin="round"><rect x="1.900" y="1.900" width="12.500" height="12.500" rx=".6"/><rect x="23.200" y="1.900" width="12.900" height="12.500" rx=".6"/><rect x="1.900" y="22.800" width="12.500" height="13.100" rx=".6"/><rect x="23.200" y="22.800" width="12.900" height="13.100" rx=".6"/></svg>
<svg style="position:absolute;left:325.5px;top:455.4px" width="38" height="38" viewBox="0 0 38 38" fill="none" stroke="#9c9c9c" stroke-width="3.4" stroke-linecap="round" stroke-linejoin="round"><circle cx="19" cy="19" r="16.700" stroke-width="3.700"/><path d="M19.800 35 V15.200 c0-3.600 2-5.200 5.600-4.600 M14.200 20.300 h11.200"/></svg>
<svg style="position:absolute;left:325px;top:1305.7px" width="38" height="38" viewBox="0 0 38 38" fill="none" stroke="#9c9c9c" stroke-width="3.4" stroke-linecap="round" stroke-linejoin="round"><circle cx="19" cy="19" r="16.700" stroke-width="3.700"/><path d="M19.800 35 V15.200 c0-3.600 2-5.200 5.600-4.600 M14.200 20.300 h11.200"/></svg>
<svg style="position:absolute;left:326.3px;top:546.9px" width="37" height="37" viewBox="0 0 37 37" fill="none" stroke="#9c9c9c" stroke-width="3.4" stroke-linecap="round" stroke-linejoin="round"><rect x="1.850" y="1.850" width="33.300" height="33.300" rx="8.800" stroke-width="3.700"/><circle cx="18.400" cy="18.400" r="7.600" stroke-width="3.500"/><circle cx="28" cy="8.600" r="1.300" fill="#9c9c9c" stroke-width="1.800"/></svg>
<svg style="position:absolute;left:326.3px;top:1398.8px" width="37" height="37" viewBox="0 0 37 37" fill="none" stroke="#9c9c9c" stroke-width="3.4" stroke-linecap="round" stroke-linejoin="round"><rect x="1.850" y="1.850" width="33.300" height="33.300" rx="8.800" stroke-width="3.700"/><circle cx="18.400" cy="18.400" r="7.600" stroke-width="3.500"/><circle cx="28" cy="8.600" r="1.300" fill="#9c9c9c" stroke-width="1.800"/></svg>
<svg style="position:absolute;left:327px;top:640px" width="36" height="34" viewBox="-1 0 36 34" fill="none" stroke="#9c9c9c"><path d="M3.600 9.600 V33.500 M15 33.500 V9.600 M15 20 c0-6.300 3.300-9.500 8.300-9.500 s8.400 3.200 8.400 9.800 V33.500" stroke-width="4.300" stroke-linecap="butt"/><circle cx="3.600" cy="3.600" r="3" fill="#9c9c9c" stroke="none"/></svg>
<svg style="position:absolute;left:323.5px;top:725px" width="40" height="45" viewBox="2 0 36 43" fill="none" stroke="#9c9c9c" stroke-width="3.4" stroke-linecap="round" stroke-linejoin="round"><path d="M22 2 h6.500 c.6 4.600 3.200 7.400 7.500 8 v6.600 c-2.900 0-5.400-.8-7.500-2.300 V28 c0 7-5.400 12-12 12 S4.500 35 4.500 28.600 s5.300-12 12-12 c.8 0 1.500.1 2.200.2 v6.900 c-.7-.3-1.400-.4-2.200-.4 -2.900 0-5.200 2.300-5.200 5.200 s2.300 5.200 5.200 5.200 5.500-2.300 5.500-5.600 Z" stroke-width="3.300"/></svg>
<svg style="position:absolute;left:324.1px;top:822.5px" width="46" height="34" viewBox="0 0 46 34" fill="none" stroke="#9c9c9c" stroke-width="3.4" stroke-linecap="round" stroke-linejoin="round"><rect x="1.850" y="1.850" width="41.800" height="29.900" rx="8.200" stroke-width="3.700"/><path d="M18.200 11.300 L28.800 17.300 L18.200 23.400 Z" stroke-width="3.100"/></svg>
<svg style="position:absolute;left:324.1px;top:911.5px" width="46" height="46" viewBox="0 0 46 46" fill="none" stroke="#9c9c9c" stroke-width="3.4" stroke-linecap="round" stroke-linejoin="round"><circle cx="22.750" cy="22.500" r="20.900" stroke-width="3.400"/><path d="M18.800 34 L22.600 19 M16.300 24.600 c-2.300-4-.3-10.200 6.600-10.200 c5.900 0 8.300 4.400 7.100 8.700 c-1.100 4-5.300 5.700-8.600 3" stroke-width="4"/></svg>
<svg style="position:absolute;left:325px;top:1116.3px" width="39" height="39" viewBox="0 0 39 39" fill="none" stroke="#9c9c9c" stroke-width="3.4" stroke-linecap="round" stroke-linejoin="round"><rect x="1.850" y="1.600" width="34.900" height="35.300" rx="9.500" stroke-width="3.500"/><path d="M9.900 28.800 V20.600 M19.300 28.800 V9.800 M28.500 28.800 V16.800" stroke-width="2.800"/></svg>
<svg style="position:absolute;left:329px;top:1588px" width="31" height="37" viewBox="0 0 31 37" fill="none" stroke="#9c9c9c" stroke-width="3.4" stroke-linecap="round" stroke-linejoin="round"><path d="M17 1.750 H7.200 c-2.700 0-4.800 2.100-4.800 4.800 V30.200 c0 2.700 2.100 4.800 4.800 4.800 H23 c2.700 0 4.800-2.100 4.800-4.800 V12.500 Z M17 1.750 V9 c0 2 1.500 3.500 3.500 3.500 H27.800" stroke-width="3.500"/><path d="M8.200 28.800 L13 23.100 L16.300 26.100 L21.500 20.100" stroke-width="3"/><path d="M9 13.100 H11.700" stroke-width="3"/></svg>
<svg style="position:absolute;left:329px;top:1680.6px" width="31" height="37" viewBox="0 0 31 37" fill="none" stroke="#9c9c9c" stroke-width="3.4" stroke-linecap="round" stroke-linejoin="round"><path d="M17 1.750 H7.200 c-2.700 0-4.800 2.100-4.800 4.800 V30.200 c0 2.700 2.100 4.800 4.800 4.800 H23 c2.700 0 4.800-2.100 4.800-4.800 V12.500 Z M17 1.750 V9 c0 2 1.500 3.500 3.500 3.500 H27.800" stroke-width="3.500"/><path d="M15.100 17.500 V27.300 M10.600 23.300 l4.500 4.300 4.500-4.300" stroke-width="3"/></svg>
<svg style="position:absolute;left:677px;top:467px" width="20" height="13" viewBox="0 0 20 13" fill="none" stroke="#b3b3b3" stroke-width="2.600" stroke-linecap="round" stroke-linejoin="round"><path d="M2 2.500 L10 10.500 L18 2.500"/></svg>
<div style="position:absolute;left:1504.0px;top:1392.0px;width:997.0px;height:573.0px;border-radius:32px;background:#fff;box-shadow:0 0 0 2.500px #ededed inset, 0 0 10px rgba(0,0,0,.04);"></div>
<span class="t" style="left:1566.4px;top:1447.2px;font-size:46.5px;color:#0b1528;letter-spacing:2.12px;-webkit-text-stroke:0.40px #0b1528;">Cadbury</span>
<div style="position:absolute;left:2357.7px;top:1433.0px;width:84.2px;height:84.2px;border-radius:50%;background:radial-gradient(circle at 45% 40%,#52208a,#44177a);box-shadow:0 16px 18px rgba(70,60,120,.18);"></div>
<span class="t" style="left:2349.0px;top:1457.6px;font-size:29.0px;color:#d9b46e;font-weight:bold;letter-spacing:-1.20px;font-family:'Liberation Serif',serif;font-style:italic;transform:rotate(-14deg) scaleX(0.74);transform-origin:50% 50%;">Cadbury</span>
<div style="position:absolute;left:2401.7px;top:1475.8px;width:39.6px;height:39.6px;border-radius:50%;background:#fff;box-shadow:0 8px 10px rgba(24,119,242,.22);"></div>
<svg style="position:absolute;left:2401.500px;top:1475.600px" width="40" height="40" viewBox="0 0 40 40" fill="none" stroke="#1a7ff0" stroke-linecap="butt"><circle cx="20" cy="20" r="13" stroke-width="6.400" fill="#fff"/><path d="M20.300 30 V17.600 c0-2.400 1.300-3.500 3.700-3.100 M15.600 21.400 h8.800" stroke-width="3.300"/></svg>
<div style="position:absolute;left:1600.0px;top:1615.0px;width:842.0px;height:37.6px;border-radius:19px;background:#ecf8f1;"></div>
<div style="position:absolute;left:1600.0px;top:1615.0px;width:705.5px;height:37.6px;border-radius:19px;background:#79cda5;box-shadow:0 14px 16px rgba(121,205,165,.28);"></div>
<div style="position:absolute;left:1565.6px;top:1555.2px;width:96.0px;height:96.0px;border-radius:50%;background:linear-gradient(200deg,rgb(201,236,217) 0,#fbfdfc 70%,#fff 100%);box-shadow:0 10px 18px rgba(201,236,217,.55), -6px 6px 14px rgba(0,0,0,.035);"></div>
<span class="t" style="left:1680.4px;top:1569.2px;font-size:28.5px;color:#4cb07a;letter-spacing:-0.85px;-webkit-text-stroke:0.30px #4cb07a;transform:scaleX(0.9441);transform-origin:0 0;">Likes</span>
<span class="t" style="left:2396.6px;top:1571.4px;font-size:26.0px;color:#0b1528;letter-spacing:0.48px;-webkit-text-stroke:0.30px #0b1528;">88</span>
<div style="position:absolute;left:1600.0px;top:1740.7px;width:842.0px;height:37.6px;border-radius:19px;background:#f0f0fb;"></div>
<div style="position:absolute;left:1600.0px;top:1740.7px;width:318.6px;height:37.6px;border-radius:19px;background:#9394e5;box-shadow:0 14px 16px rgba(147,148,229,.28);"></div>
<div style="position:absolute;left:1565.6px;top:1685.0px;width:96.0px;height:96.0px;border-radius:50%;background:linear-gradient(200deg,rgb(214,214,248) 0,#fbfdfc 70%,#fff 100%);box-shadow:0 10px 18px rgba(214,214,248,.55), -6px 6px 14px rgba(0,0,0,.035);"></div>
<span class="t" style="left:1680.4px;top:1694.7px;font-size:28.5px;color:#8f90e2;letter-spacing:-0.51px;-webkit-text-stroke:0.30px #8f90e2;">Comments</span>
<span class="t" style="left:2412.0px;top:1696.9px;font-size:26.0px;color:#0b1528;letter-spacing:-0.47px;-webkit-text-stroke:0.30px #0b1528;">4</span>
<div style="position:absolute;left:1600.0px;top:1867.0px;width:842.0px;height:37.6px;border-radius:19px;background:#fef8e9;"></div>
<div style="position:absolute;left:1600.0px;top:1867.0px;width:200.0px;height:37.6px;border-radius:19px;background:#ebb34c;box-shadow:0 14px 16px rgba(235,179,76,.28);"></div>
<div style="position:absolute;left:1565.6px;top:1812.6px;width:96.0px;height:96.0px;border-radius:50%;background:linear-gradient(175deg,#fffdf8 0,#fff6e5 50%,#fbe7c2 100%);box-shadow:0 10px 18px rgba(253,240,212,.55), -6px 6px 14px rgba(0,0,0,.035);"></div>
<span class="t" style="left:1680.4px;top:1820.7px;font-size:28.5px;color:#e9af49;letter-spacing:-0.47px;-webkit-text-stroke:0.30px #e9af49;">Share</span>
<span class="t" style="left:2412.0px;top:1822.9px;font-size:26.0px;color:#0b1528;letter-spacing:-0.47px;-webkit-text-stroke:0.30px #0b1528;">2</span>
<svg style="position:absolute;left:1586px;top:1576.500px" width="54" height="51" viewBox="0 0 54 51" fill="#4cb07a"><rect x="0" y="23" width="15.500" height="27.500" rx="3.500"/><path d="M18.500 25.500 c4-3.500 7-9 7.500-19 c.2-3 1.500-6 5-6 c4 0 5.500 3.500 5.500 7 c0 4-1 7.500-2 10.500 h13 c3 0 5.500 2 5.500 5 c0 1.500-.5 2.500-1.500 3.500 c1.500 2 1 4.500-.8 5.800 c1 2 .3 4.300-1.700 5.400 c.6 2 0 4-1.800 5 c-.5 3-3 5.300-6.200 5.300 H26 c-3 0-5.500-.8-7.500-2.500 Z"/></svg>
<svg style="position:absolute;left:1586px;top:1708px" width="54" height="54" viewBox="0 0 54 54"><path d="M13 0 H41 c7 0 12 5 12 12 V26 c0 7-5 12-12 12 H30 c-5 1.500-10 6-13.500 13.500 c-1 .8-1.800 .3-1.800-.8 V38 H13 C6 38 0 33 0 26 V12 C0 5 6 0 13 0 Z" fill="#9091e3"/><circle cx="14.500" cy="21.500" r="3.600" fill="#fff"/><circle cx="26.500" cy="21.500" r="3.600" fill="#fff"/><circle cx="38.500" cy="21.500" r="3.600" fill="#fff"/></svg>
<svg style="position:absolute;left:1586.300px;top:1841.800px" width="54" height="45" viewBox="0 0 54 45"><path d="M34.300 .4 c-.4-.5.3-.9.8-.5 L52.500 15.300 c.6.5.6 1.300 0 1.800 L35.600 34.300 c-.5.5-1.100.3-1.200-.4 L32.800 27 C20.500 27.300 9 33 .6 43.500 C-.5 25.500 11.500 9.800 33.200 8.300 Z" fill="#f6b94c"/></svg>
<svg style="position:absolute;left:0;top:0" width="2788" height="1000" viewBox="0 0 2788 1000"><polygon fill="#ececec" points="1840,56 2592,56 2592,64 2608,64 2608,80 2615,80 2615,190 2600,190 2600,200 1816,200 1816,72 1824,72 1824,64 1840,64"/><rect x="1816" y="76" width="10" height="816" fill="#f9f9f9"/></svg>
<div style="position:absolute;left:1822.0px;top:66.0px;width:789.0px;height:854.5px;border-radius:32px;background:radial-gradient(ellipse 45% 30% at 60% 28%,rgba(228,244,253,.35) 0,rgba(228,244,253,0) 100%),linear-gradient(97deg,#fffefc 0,#fffefc 62%,#fffaea 88%,#fff6d8 100%);box-shadow:-2px 0 5px rgba(0,0,0,.035), 0 0 0 1px rgba(238,238,238,.9), 0 22px 30px rgba(0,0,0,.05);"></div>
<span class="t" style="left:1870.3px;top:109.8px;font-size:47.0px;color:#0d1830;letter-spacing:1.23px;-webkit-text-stroke:0.50px #0d1830;">Monthly Report</span>
<svg style="position:absolute;left:2495px;top:106.500px;filter:drop-shadow(0 12px 12px rgba(226,74,59,.3))" width="67" height="67" viewBox="0 0 67 67"><path d="M13 0 H57 c5.500 0 10 4.500 10 10 V57 c0 5.500-4.500 10-10 10 H10 c-5.500 0-10-4.500-10-10 V13 Z" fill="#e2493a"/><path d="M13 0 V8 c0 3-2 5-5 5 H0 Z" fill="#ef7d6e"/></svg>
<span class="t" style="left:2509.0px;top:127.8px;font-size:24.5px;color:#fff;letter-spacing:0.11px;-webkit-text-stroke:0.40px #fff;">Pdf</span>
<div style="position:absolute;left:1868.4px;top:198.4px;width:494.3px;height:14.6px;border-radius:8px;background:#e3f3fd;"></div>
<div style="position:absolute;left:1868.4px;top:222.5px;width:440.0px;height:14.2px;border-radius:8px;background:#e3f3fd;"></div>
<span class="t" style="left:1868.8px;top:289.2px;font-size:20.0px;color:#5a5f66;letter-spacing:0.98px;-webkit-text-stroke:0.20px #5a5f66;">Overview</span>
<div style="position:absolute;left:1868.4px;top:324.4px;width:216.8px;height:84.4px;background:#e4f4fd;"></div>
<div style="position:absolute;left:1883.7px;top:348.7px;width:132.3px;height:8.8px;border-radius:5px;background:#d1ecfb;"></div>
<div style="position:absolute;left:1883.7px;top:372.7px;width:57.0px;height:8.8px;border-radius:5px;background:#b3e2fa;"></div>
<div style="position:absolute;left:2106.0px;top:324.4px;width:216.8px;height:84.4px;background:#e4f4fd;"></div>
<div style="position:absolute;left:2121.3px;top:348.7px;width:132.3px;height:8.8px;border-radius:5px;background:#d1ecfb;"></div>
<div style="position:absolute;left:2121.3px;top:372.7px;width:57.0px;height:8.8px;border-radius:5px;background:#b3e2fa;"></div>
<div style="position:absolute;left:2344.5px;top:324.4px;width:216.8px;height:84.4px;background:#e4f4fd;"></div>
<div style="position:absolute;left:2359.8px;top:348.7px;width:132.3px;height:8.8px;border-radius:5px;background:#d1ecfb;"></div>
<div style="position:absolute;left:2359.8px;top:372.7px;width:57.0px;height:8.8px;border-radius:5px;background:#b3e2fa;"></div>
<span class="t" style="left:1868.8px;top:449.9px;font-size:20.0px;color:#5a5f66;letter-spacing:0.88px;-webkit-text-stroke:0.20px #5a5f66;">Total Engagement</span>
<div style="position:absolute;left:1870.3px;top:502.7px;width:691.0px;height:300.5px;border-radius:10px;background:linear-gradient(180deg,#f9fbfe,#fcfdfe);box-shadow:0 0 0 1.500px #f0f3f8;"></div>
<div style="position:absolute;left:1891.8px;top:683.0px;width:12.4px;height:77.5px;border-radius:4px 4px 0 0;background:linear-gradient(180deg,#f7d936 0,#f7d936 calc(100% - 42px),rgba(248,222,80,0) 100%);"></div><div style="position:absolute;left:1907.2px;top:605.0px;width:12.4px;height:155.5px;border-radius:4px 4px 0 0;background:linear-gradient(180deg,#35d893 0,#35d893 calc(100% - 42px),rgba(60,220,150,0) 100%);"></div><div style="position:absolute;left:1921.8px;top:652.7px;width:12.4px;height:107.8px;border-radius:4px 4px 0 0;background:linear-gradient(180deg,#e02d5c 0,#e02d5c calc(100% - 42px),rgba(226,60,100,0) 100%);"></div><div style="position:absolute;left:1953.8px;top:708.0px;width:12.4px;height:52.5px;border-radius:4px 4px 0 0;background:linear-gradient(180deg,#f7d936 0,#f7d936 calc(100% - 42px),rgba(248,222,80,0) 100%);"></div><div style="position:absolute;left:1969.8px;top:728.8px;width:12.4px;height:31.7px;border-radius:4px 4px 0 0;background:linear-gradient(180deg,#35d893 0,#35d893 calc(100% - 42px),rgba(60,220,150,0) 100%);"></div><div style="position:absolute;left:1985.8px;top:676.0px;width:12.4px;height:84.5px;border-radius:4px 4px 0 0;background:linear-gradient(180deg,#e02d5c 0,#e02d5c calc(100% - 42px),rgba(226,60,100,0) 100%);"></div><div style="position:absolute;left:2017.4px;top:684.4px;width:12.4px;height:76.1px;border-radius:4px 4px 0 0;background:linear-gradient(180deg,#f7d936 0,#f7d936 calc(100% - 42px),rgba(248,222,80,0) 100%);"></div><div style="position:absolute;left:2031.8px;top:663.5px;width:12.4px;height:97.0px;border-radius:4px 4px 0 0;background:linear-gradient(180deg,#35d893 0,#35d893 calc(100% - 42px),rgba(60,220,150,0) 100%);"></div><div style="position:absolute;left:2047.8px;top:699.0px;width:12.4px;height:61.5px;border-radius:4px 4px 0 0;background:linear-gradient(180deg,#e02d5c 0,#e02d5c calc(100% - 42px),rgba(226,60,100,0) 100%);"></div><div style="position:absolute;left:2080.1px;top:627.4px;width:12.4px;height:133.1px;border-radius:4px 4px 0 0;background:linear-gradient(180deg,#f7d936 0,#f7d936 calc(100% - 42px),rgba(248,222,80,0) 100%);"></div><div style="position:absolute;left:2095.8px;top:671.7px;width:12.4px;height:88.8px;border-radius:4px 4px 0 0;background:linear-gradient(180deg,#35d893 0,#35d893 calc(100% - 42px),rgba(60,220,150,0) 100%);"></div><div style="position:absolute;left:2111.2px;top:652.7px;width:12.4px;height:107.8px;border-radius:4px 4px 0 0;background:linear-gradient(180deg,#e02d5c 0,#e02d5c calc(100% - 42px),rgba(226,60,100,0) 100%);"></div><div style="position:absolute;left:2143.5px;top:627.4px;width:12.4px;height:133.1px;border-radius:4px 4px 0 0;background:linear-gradient(180deg,#f7d936 0,#f7d936 calc(100% - 42px),rgba(248,222,80,0) 100%);"></div><div style="position:absolute;left:2158.8px;top:684.4px;width:12.4px;height:76.1px;border-radius:4px 4px 0 0;background:linear-gradient(180deg,#35d893 0,#35d893 calc(100% - 42px),rgba(60,220,150,0) 100%);"></div><div style="position:absolute;left:2173.8px;top:652.7px;width:12.4px;height:107.8px;border-radius:4px 4px 0 0;background:linear-gradient(180deg,#e02d5c 0,#e02d5c calc(100% - 42px),rgba(226,60,100,0) 100%);"></div><div style="position:absolute;left:2206.3px;top:608.4px;width:12.4px;height:152.1px;border-radius:4px 4px 0 0;background:linear-gradient(180deg,#f7d936 0,#f7d936 calc(100% - 42px),rgba(248,222,80,0) 100%);"></div><div style="position:absolute;left:2222.1px;top:679.3px;width:12.4px;height:81.2px;border-radius:4px 4px 0 0;background:linear-gradient(180deg,#35d893 0,#35d893 calc(100% - 42px),rgba(60,220,150,0) 100%);"></div><div style="position:absolute;left:2236.8px;top:638.8px;width:12.4px;height:121.7px;border-radius:4px 4px 0 0;background:linear-gradient(180deg,#e02d5c 0,#e02d5c calc(100% - 42px),rgba(226,60,100,0) 100%);"></div>
<svg style="position:absolute;left:0;top:0" width="2788" height="1000" viewBox="0 0 2788 1000"><defs><linearGradient id="ar" x1="0" y1="0" x2="0" y2="1"><stop offset="0" stop-color="#dfe8f8" stop-opacity=".55"/><stop offset="1" stop-color="#eef3fb" stop-opacity="0"/></linearGradient></defs><path d="M1897.0 614.0 C1904.8 611.5 1916.7 609.8 1932.3 602.7 C1947.9 595.6 1952.4 584.5 1968.0 581.8 C1983.6 579.0 1987.8 595.7 2003.4 590.2 C2019.0 584.7 2023.2 554.4 2038.8 557.0 C2054.4 559.6 2058.9 598.8 2074.5 602.0 C2090.1 605.2 2094.3 575.5 2109.9 571.6 C2125.5 567.8 2129.6 588.5 2145.2 584.5 C2160.8 580.5 2165.4 557.8 2181.0 553.3 C2196.6 548.8 2201.7 567.5 2216.3 564.0 C2230.9 560.5 2240.6 543.2 2247.5 537.3 L2247.500 760 L1897 760 Z" fill="url(#ar)"/><path d="M1897.0 614.0 C1904.8 611.5 1916.7 609.8 1932.3 602.7 C1947.9 595.6 1952.4 584.5 1968.0 581.8 C1983.6 579.0 1987.8 595.7 2003.4 590.2 C2019.0 584.7 2023.2 554.4 2038.8 557.0 C2054.4 559.6 2058.9 598.8 2074.5 602.0 C2090.1 605.2 2094.3 575.5 2109.9 571.6 C2125.5 567.8 2129.6 588.5 2145.2 584.5 C2160.8 580.5 2165.4 557.8 2181.0 553.3 C2196.6 548.8 2201.7 567.5 2216.3 564.0 C2230.9 560.5 2240.6 543.2 2247.5 537.3" fill="none" stroke="#5d6be8" stroke-width="3.200" stroke-linecap="round"/><circle cx="1897.0" cy="614.0" r="6" fill="#5d6be8"/><circle cx="1932.3" cy="602.7" r="6" fill="#5d6be8"/><circle cx="1968.0" cy="581.8" r="6" fill="#5d6be8"/><circle cx="2003.4" cy="590.2" r="6" fill="#5d6be8"/><circle cx="2038.8" cy="557.0" r="6" fill="#5d6be8"/><circle cx="2074.5" cy="602.0" r="6" fill="#5d6be8"/><circle cx="2109.9" cy="571.6" r="6" fill="#5d6be8"/><circle cx="2145.2" cy="584.5" r="6" fill="#5d6be8"/><circle cx="2181.0" cy="553.3" r="6" fill="#5d6be8"/><circle cx="2216.3" cy="564.0" r="6" fill="#5d6be8"/><circle cx="2247.5" cy="537.3" r="6" fill="#5d6be8"/></svg>
<div style="position:absolute;left:2315.0px;top:564.7px;width:226.5px;height:203.5px;background:#e5f3fc;"></div>
<div style="position:absolute;left:2336.5px;top:616.5px;width:5.0px;height:5.0px;border-radius:50%;background:#3fbf8a;"></div>
<span class="t" style="left:2354.4px;top:609.8px;font-size:16.5px;color:#545a61;letter-spacing:-0.05px;-webkit-text-stroke:0.15px #545a61;">Comments</span>
<span class="t" style="left:2503.5px;top:611.0px;font-size:15.5px;color:#101828;letter-spacing:-0.12px;">8</span>
<div style="position:absolute;left:2336.5px;top:647.5px;width:5.0px;height:5.0px;border-radius:50%;background:#e0356a;"></div>
<span class="t" style="left:2354.4px;top:640.8px;font-size:16.5px;color:#545a61;letter-spacing:-0.42px;-webkit-text-stroke:0.15px #545a61;">Reposts</span>
<span class="t" style="left:2493.5px;top:642.0px;font-size:15.5px;color:#101828;letter-spacing:1.25px;">44</span>
<div style="position:absolute;left:2336.5px;top:679.7px;width:5.0px;height:5.0px;border-radius:50%;background:#f5b43c;"></div>
<span class="t" style="left:2354.4px;top:673.0px;font-size:16.5px;color:#545a61;letter-spacing:0.20px;-webkit-text-stroke:0.15px #545a61;">Reactions</span>
<span class="t" style="left:2503.5px;top:674.2px;font-size:15.5px;color:#101828;letter-spacing:-0.12px;">2</span>
<div style="position:absolute;left:2336.5px;top:712.1px;width:5.0px;height:5.0px;border-radius:50%;background:#5d6be8;"></div>
<span class="t" style="left:2354.4px;top:705.4px;font-size:16.5px;color:#545a61;letter-spacing:-0.17px;-webkit-text-stroke:0.15px #545a61;">Posts Published</span>
<span class="t" style="left:2493.5px;top:706.6px;font-size:15.5px;color:#101828;letter-spacing:1.25px;">30</span>
<div style="position:absolute;left:1871.5px;top:836.5px;width:152.7px;height:47.0px;border-radius:7px;background:linear-gradient(90deg,#1caefd,#1fb2ff);box-shadow:0 6px 14px rgba(30,170,250,.22);"></div>
<svg style="position:absolute;left:1887.500px;top:850px" width="20" height="20" viewBox="0 0 20 20" fill="none" stroke="#fff" stroke-width="2.200" stroke-linecap="round" stroke-linejoin="round"><path d="M9.400 1.500 V13 M4.300 7.800 L9.400 13.300 L14.500 7.800 M.900 12.800 V16.300 c0 1.700 1 2.700 2.700 2.700 H15.200 c1.700 0 2.700-1 2.700-2.700 V12.800"/></svg>
<span class="t" style="left:1920.3px;top:851.2px;font-size:18.0px;color:#fff;letter-spacing:0.23px;-webkit-text-stroke:0.30px #fff;">Export</span>
<svg style="position:absolute;left:1993.500px;top:857px" width="12" height="8" viewBox="0 0 12 8" fill="none" stroke="#fff" stroke-width="1.800" stroke-linecap="round" stroke-linejoin="round"><path d="M1.500 1.500 L6 6 L10.500 1.500"/></svg>
</body></html>
